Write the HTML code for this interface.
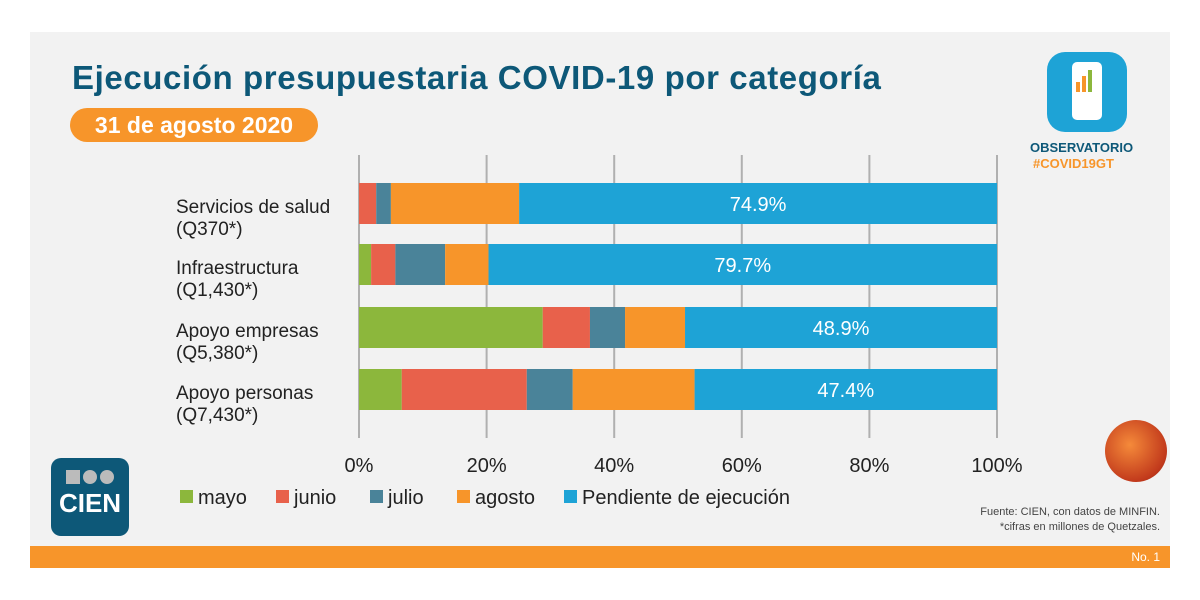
<!DOCTYPE html>
<html><head><meta charset="utf-8"><style>
body{margin:0;width:1200px;height:600px;background:#fff;font-family:"Liberation Sans",sans-serif;overflow:hidden}
#panel{position:absolute;left:30px;top:32px;width:1140px;height:536px;background:#f2f2f2}
.t{position:absolute;white-space:nowrap}
</style></head><body>
<div id="panel"></div>
<div class="t" style="left:72px;top:59px;font-size:33px;letter-spacing:0.6px;font-weight:bold;color:#0d5878">Ejecución presupuestaria COVID-19 por categoría</div>
<div class="t" style="left:70px;top:108px;width:248px;height:34px;border-radius:17px;background:#f7952a;color:#fff;font-size:23px;font-weight:bold;line-height:34px;text-align:center">31 de agosto 2020</div>
<div class="t" style="left:1047px;top:52px;width:80px;height:80px;border-radius:18px;background:#1ea3d6">
 <div style="position:absolute;left:25px;top:10px;width:30px;height:58px;border-radius:5px;background:#fff"></div>
 <div style="position:absolute;left:29px;top:30px;width:4px;height:10px;background:#f7952a"></div>
 <div style="position:absolute;left:35px;top:24px;width:4px;height:16px;background:#f7952a"></div>
 <div style="position:absolute;left:41px;top:18px;width:4px;height:22px;background:#8cb73c"></div>
</div>
<div class="t" style="left:1030px;top:140px;font-size:13px;font-weight:bold;color:#0d5878">OBSERVATORIO</div>
<div class="t" style="left:1033px;top:156px;font-size:13px;font-weight:bold;color:#f7952a">#COVID19GT</div>
<svg id="chart" width="1200" height="600" style="position:absolute;left:0;top:0"></svg>
<div class="t" style="left:51px;top:458px;width:78px;height:78px;border-radius:10px;background:#0d5878;color:#fff;font-size:26px;font-weight:bold;text-align:center">
 <div style="margin-top:12px;height:14px;display:flex;justify-content:center;gap:3px"><span style="width:14px;background:#bbb"></span><span style="width:14px;border-radius:7px;background:#bbb"></span><span style="width:14px;border-radius:7px;background:#bbb"></span></div>
 <div style="margin-top:4px">CIEN</div></div>
<div class="t" style="right:40px;top:505px;font-size:11px;color:#444;text-align:right;line-height:15px">Fuente: CIEN, con datos de MINFIN.<br>*cifras en millones de Quetzales.</div>
<div class="t" style="left:1105px;top:420px;width:62px;height:62px;border-radius:50%;background:radial-gradient(circle at 40% 40%,#f58a3a,#c23a1c 70%,#8a1e10)"></div>
<div class="t" style="left:30px;top:546px;width:1140px;height:22px;background:#f7952a"></div>
<div class="t" style="right:40px;top:550px;font-size:12px;color:#fff">No. 1</div>
<script>
const categories=["Servicios de salud","Infraestructura","Apoyo empresas","Apoyo personas"];
const amounts=["(Q370*)","(Q1,430*)","(Q5,380*)","(Q7,430*)"];
const seriesNames=["mayo","junio","julio","agosto","Pendiente de ejecución"];
const mayo=[0,1.9,28.8,6.7];
const junio=[2.7,3.8,7.4,19.6];
const julio=[2.3,7.8,5.5,7.2];
const agosto=[20.1,6.8,9.4,19.1];
const pendiente=[74.9,79.7,48.9,47.4];
const ticks=[0,20,40,60,80,100];
const colors=["#8cb73c","#e8614b","#4a8399","#f7952a","#1ea3d6"];
const svg=document.getElementById('chart');const NS="http://www.w3.org/2000/svg";
const X=v=>359+v*6.38;
const rowY=[183,244,307,369],bh=41;
function mk(t,a){const e=document.createElementNS(NS,t);for(const k in a)e.setAttribute(k,a[k]);svg.appendChild(e);return e;}
ticks.forEach(t=>{
 const l=mk('line',{x1:X(t),x2:X(t),y1:155,y2:438,stroke:'#b0b0b0','stroke-width':2});
 
 
 const tx=mk('text',{x:X(t),y:472,'text-anchor':'middle','font-size':20,fill:'#222'});tx.textContent=t+'%';
 
 
});
const series=[mayo,junio,julio,agosto,pendiente];
categories.forEach((c,i)=>{
 let acc=0;
 series.forEach((s,j)=>{
  const r=mk('rect',{x:X(acc),y:rowY[i],width:s[i]*6.38,height:bh,fill:colors[j]});
  
  
  acc+=s[i];
 });
 const st=acc-pendiente[i];
 const v=mk('text',{x:X(st+pendiente[i]/2),y:rowY[i]+28,'text-anchor':'middle','font-size':20,fill:'#fff'});v.textContent=pendiente[i].toFixed(1)+'%';
 
 
 const a=mk('text',{x:176,y:rowY[i]+30,'font-size':19,fill:'#222'});a.textContent=c;
 
 
 const b=mk('text',{x:176,y:rowY[i]+52,'font-size':19,fill:'#222'});b.textContent=amounts[i];
 
 
});
const lx=[180,276,370,457,564];
seriesNames.forEach((n,j)=>{
 const r=mk('rect',{x:lx[j],y:490,width:13,height:13,fill:colors[j]});
 
 
 const t=mk('text',{x:lx[j]+18,y:504,'font-size':20,fill:'#222'});t.textContent=n;
 
 
});
</script>
</body></html>
